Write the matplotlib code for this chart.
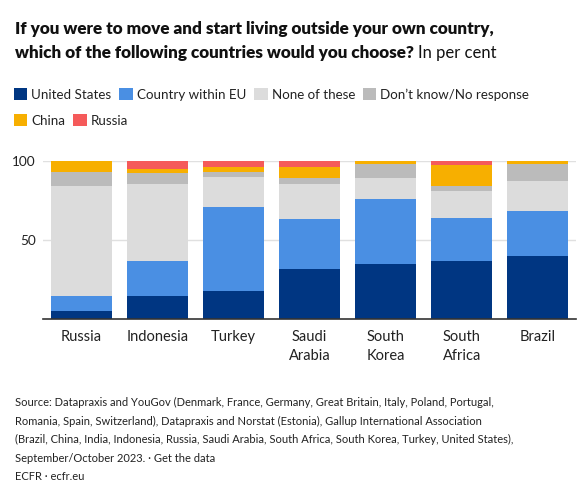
import matplotlib
matplotlib.use("Agg")
import matplotlib.pyplot as plt
import numpy as np

countries = ["Russia", "Indonesia", "Turkey", "Saudi\nArabia", "South\nKorea", "South\nAfrica", "Brazil"]
series_names = ["United States", "Country within EU", "None of these", "Don\u2019t know/No response", "China", "Russia"]
united_states = [5, 15, 18, 32, 35, 37, 40]
country_within_eu = [10, 22, 53, 31, 41, 27, 28]
none_of_these = [69, 48, 19, 22, 13, 17, 19]
dont_know = [9, 7, 3, 4, 9, 3, 11]
china = [7, 3, 3, 7, 2, 13, 2]
russia = [0, 5, 4, 4, 0, 3, 0]
y_ticks = [50, 100]

colors = ["#003682", "#4a8fe3", "#dcdcdc", "#bbbbbb", "#f7af00", "#f55a5a"]

plt.rcParams['font.family'] = ['Lato', 'DejaVu Sans']

W, H = 578, 486
fig = plt.figure(figsize=(W / 100, H / 100), dpi=100)

def fx(px):
    return px / W

def fy(py):
    return 1 - py / H

ax_left, ax_right, ax_top, ax_bottom = 43, 576, 160.7, 319.3
ax = fig.add_axes([fx(ax_left), fy(ax_bottom), (ax_right - ax_left) / W, (ax_bottom - ax_top) / H])

data = [united_states, country_within_eu, none_of_these, dont_know, china, russia]
x = np.arange(len(countries))
bottom = np.zeros(len(countries))
handles = []
for name, vals, c in zip(series_names, data, colors):
    vals = np.array(vals, dtype=float)
    b = ax.bar(x, vals, width=0.8, bottom=bottom, color=c, label=name, linewidth=0, zorder=2)
    handles.append(b)
    bottom += vals

ax.set_xlim(-0.5, len(countries) - 0.5)
ax.set_ylim(0, 100)
ax.set_yticks(y_ticks)
ax.set_yticklabels([str(t) for t in y_ticks])
ax.set_xticks(x)
ax.set_xticklabels(countries, fontsize=10.5, color="#222222", linespacing=1.45, va="top")
ax.tick_params(axis="both", length=0, colors="#222222")
ax.tick_params(axis="x", pad=8, labelsize=10.5)
ax.tick_params(axis="y", pad=5, labelsize=9.8)
ax.grid(axis="y", color="#e0e0e0", linewidth=1, zorder=0)
for s in ["top", "right", "left"]:
    ax.spines[s].set_visible(False)
ax.spines["bottom"].set_color("#333333")
ax.spines["bottom"].set_linewidth(1.2)
ax.spines["bottom"].set_zorder(3)

# Title
t1 = fig.text(fx(15), fy(21), "If you were to move and start living outside your own country,",
              fontsize=12.3, fontweight="heavy", color="#111111", va="top", ha="left")
t2 = fig.text(fx(15), fy(45), "which of the following countries would you choose?",
              fontsize=12.3, fontweight="heavy", color="#111111", va="top", ha="left")
fig.canvas.draw()
r = fig.canvas.get_renderer()
bb = t2.get_window_extent(renderer=r)
fig.text(bb.x1 / W + fx(4), fy(45), "In per cent", fontsize=12, color="#111111",
         va="top", ha="left")

# Legend
leg_kw = dict(frameon=False, handlelength=1.0, handleheight=1.0, handletextpad=0.3,
              columnspacing=0.6, borderpad=0, borderaxespad=0, fontsize=9.6,
              labelcolor="#222222", loc="upper left")
l1 = fig.legend(handles[:4], series_names[:4], ncol=4, bbox_to_anchor=(fx(14), fy(88)), **leg_kw)
l2 = fig.legend(handles[4:], series_names[4:], ncol=2, bbox_to_anchor=(fx(14), fy(114)), **leg_kw)

# Source
source = ("Source: Datapraxis and YouGov (Denmark, France, Germany, Great Britain, Italy, Poland, Portugal,\n"
          "Romania, Spain, Switzerland), Datapraxis and Norstat (Estonia), Gallup International Association\n"
          "(Brazil, China, India, Indonesia, Russia, Saudi Arabia, South Africa, South Korea, Turkey, United States),\n"
          "September/October 2023. \u00b7 Get the data\n"
          "ECFR \u00b7 ecfr.eu")
fig.text(fx(15), fy(397), source, fontsize=8, color="#222222", va="top", ha="left", linespacing=1.83)

fig.savefig("out.png", dpi=100)
